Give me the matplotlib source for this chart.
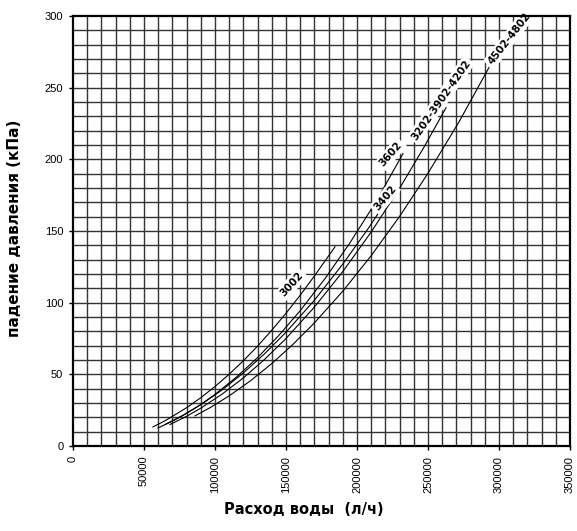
import matplotlib
matplotlib.use("Agg")
import matplotlib.pyplot as plt

# расход воды (л/ч) и падение давления (кПа)
flow_3002 = [56300, 65000, 80000, 90000, 100000, 110000, 120000, 130000,
             140000, 150000, 160000, 170000, 184500]
dp_3002 = [13.3, 17.7, 26.7, 33.7, 41.5, 50.1, 59.5, 69.7,
           80.8, 92.6, 105.2, 118.6, 139.0]

flow_3602 = [59900, 70000, 80000, 90000, 100000, 115000, 130000, 145000,
             160000, 178000, 195000, 213000, 232400]
dp_3602 = [12.6, 17.3, 22.8, 29.0, 36.0, 48.0, 61.7, 77.2,
           94.4, 117.5, 141.7, 169.8, 204.0]

flow_3402 = [64800, 77000, 90000, 105000, 120000, 135000, 150000, 170000,
             190000, 208000, 226700]
dp_3402 = [15.0, 21.1, 28.8, 39.1, 51.0, 64.4, 79.4, 101.7,
           126.9, 151.9, 180.0]

flow_3202 = [68300, 80000, 90000, 105000, 120000, 135000, 150000, 170000,
             190000, 210000, 230000, 247000, 262700]
dp_3202 = [15.0, 20.7, 26.4, 36.2, 47.5, 60.5, 75.0, 96.9,
           121.7, 149.3, 179.8, 208.2, 236.0]

flow_4502 = [85900, 97000, 110000, 125000, 140000, 155000, 170000, 190000,
             210000, 230000, 250000, 272000, 292900]
dp_4502 = [21.0, 27.0, 35.0, 45.5, 57.5, 71.0, 85.9, 108.0,
           132.8, 160.2, 190.3, 226.4, 264.0]

curve_names = ["3002", "3602", "3402", "3202-3902-4202", "4502-4802"]
curves = [(flow_3002, dp_3002), (flow_3602, dp_3602), (flow_3402, dp_3402),
          (flow_3202, dp_3202), (flow_4502, dp_4502)]

# где стоят подписи кривых (в координатах графика) и их наклон
label_pos = [(154200, 113.0), (223900, 203.7), (219700, 173.0),
             (259100, 241.4), (307000, 284.0)]
label_rot = [48, 49, 50, 55, 52]

x_ticks = [0, 50000, 100000, 150000, 200000, 250000, 300000, 350000]
y_ticks = [0, 50, 100, 150, 200, 250, 300]

fig = plt.figure(figsize=(5.77, 5.31), dpi=100)
ax = fig.add_axes([73 / 577, 85 / 531, 497 / 577, 430 / 531])

# сетка: каждые 10000 л/ч и 10 кПа
for v in range(10000, 350000, 10000):
    ax.axvline(v, color="#333333", lw=1.0, zorder=1)
for v in range(10, 300, 10):
    ax.axhline(v, color="#333333", lw=1.0, zorder=1)

for (fx, fy) in curves:
    ax.plot(fx, fy, color="black", lw=0.8, zorder=3)

for name, (lx, ly), rot in zip(curve_names, label_pos, label_rot):
    ax.text(lx, ly, name, rotation=rot, rotation_mode="anchor",
            ha="center", va="center", fontsize=7.5, fontweight="semibold",
            family="DejaVu Sans", zorder=4,
            bbox=dict(fc="white", ec="none", pad=1.5))

ax.set_xlim(0, 350000)
ax.set_ylim(0, 300)
ax.set_xticks(x_ticks)
ax.set_xticklabels([str(t) for t in x_ticks], rotation=90,
                   family="Liberation Sans", fontsize=8)
ax.set_yticks(y_ticks)
ax.set_yticklabels([str(t) for t in y_ticks], family="Liberation Sans", fontsize=8)
ax.tick_params(direction="out", length=3, width=1, pad=4)
for s in ax.spines.values():
    s.set_linewidth(1.6)
    s.set_zorder(5)

fig.text(15 / 577, 1 - 228 / 531, "падение давления (кПа)", rotation=90,
         ha="center", va="center", fontsize=11, fontweight="bold")
fig.text(304 / 577, 1 - 510 / 531, "Расход воды  (л/ч)",
         ha="center", va="center", fontsize=10.5, fontweight="bold")

fig.savefig("out.png", dpi=100)
